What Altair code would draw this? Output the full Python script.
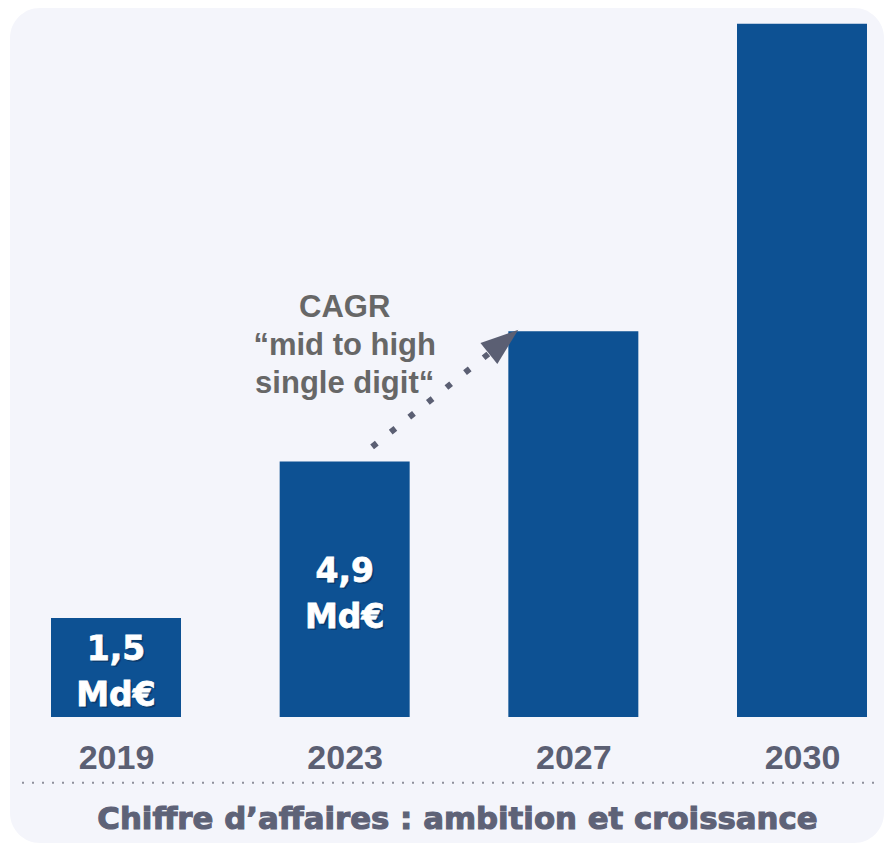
import altair as alt
import pandas as pd
import json

# ---------------- data ----------------
years = ["2019", "2023", "2027", "2030"]
bar_heights = [1.9, 4.9, 7.4, 13.3]          # bar heights as drawn (relative units)
value_labels = ["1,5\nMd€", "4,9\nMd€", "", ""]

cagr_text = ["CAGR\n“mid to high\nsingle digit“"]
cagr_pos = [1.0]          # above the 2023 bar
cagr_level = [7.67]

# dotted arrow, in "bar index" units (x) and bar-height units (y)
arrow_start_x = [1.12]
arrow_start_y = [5.18]
arrow_end_x = [1.63]
arrow_end_y = [6.97]
arrow_head_x = [1.695]
arrow_head_y = [7.20]

title_text = ["Chiffre d’affaires : ambition et croissance"]

# ---------------- styles ----------------
BAR = "#0d5193"
GREY_BLUE = "#5b5f73"
PANEL = "#f4f5fb"

bars_df = pd.DataFrame({"idx": list(range(len(years))), "year": years,
                        "h": bar_heights, "label": value_labels})
cagr_df = pd.DataFrame({"idx": cagr_pos, "h": cagr_level, "txt": cagr_text})
arrow_df = pd.DataFrame({"sx": arrow_start_x, "sy": arrow_start_y,
                         "ex": arrow_end_x, "ey": arrow_end_y})
head_df = pd.DataFrame({"hx": arrow_head_x, "hy": arrow_head_y})
title_df = pd.DataFrame({"t": title_text})

yscale = alt.Scale(domain=[0, 13.6], nice=False, zero=True, padding=0)
xlin = alt.Scale(domain=[0, 3], range=[108, 794], nice=False, zero=False, padding=0)

X = alt.X("idx:Q", scale=xlin,
          axis=alt.Axis(title=None, values=list(range(len(years))),
                        labelExpr=json.dumps(years) + "[datum.value]",
                        ticks=False, tickSize=0, domain=False, grid=False, zindex=1,
                        labelAngle=0, labelFont="Liberation Sans", labelFontWeight="bold",
                        labelFontSize=34, labelColor=GREY_BLUE, labelPadding=51,
                        labelBaseline="alphabetic", labelFlush=False, labelOverlap=False))
Y = alt.Y("h:Q", scale=yscale, axis=None)

panel = alt.Chart(alt.Data(values=[{}])).mark_rect(
    color=PANEL, cornerRadius=30
).encode(x=alt.value(2), x2=alt.value(876), y=alt.value(0), y2=alt.value(835))

bars = alt.Chart(bars_df).mark_bar(color=BAR, width=130).encode(x=X, y=Y)

lab_base = alt.Chart(bars_df).transform_filter("datum.label != ''").transform_calculate(
    mid="datum.h / 2"
)
label_shadow = lab_base.mark_text(
    font="DejaVu Sans", fontWeight="bold", fontSize=33, lineBreak="\n", lineHeight=46,
    color="#0a2443", opacity=0.45, dx=2, dy=-15, align="center", baseline="middle"
).encode(x=alt.X("idx:Q"), y=alt.Y("mid:Q", axis=None), text="label:N")
labels = lab_base.mark_text(
    font="DejaVu Sans", fontWeight="bold", fontSize=33, lineBreak="\n", lineHeight=46,
    color="white", stroke="white", strokeWidth=0.8, dy=-17, align="center", baseline="middle"
).encode(x=alt.X("idx:Q"), y=alt.Y("mid:Q", axis=None), text="label:N")

cagr = alt.Chart(cagr_df).mark_text(
    font="Liberation Sans", fontWeight="bold", fontSize=31, lineBreak="\n", lineHeight=38,
    color="#676767", align="center", baseline="alphabetic"
).encode(x=alt.X("idx:Q"), y=alt.Y("h:Q", axis=None), text="txt:N")

arrow = alt.Chart(arrow_df).mark_rule(
    color=GREY_BLUE, strokeWidth=6, strokeDash=[6, 17.8], strokeCap="butt"
).encode(x=alt.X("sx:Q"), x2="ex:Q", y=alt.Y("sy:Q", axis=None), y2="ey:Q")

head = alt.Chart(head_df).mark_point(
    shape="M0,-1L0.716,1L-0.716,1Z", size=1421, filled=True, angle=51.3,
    color=GREY_BLUE, opacity=1, strokeWidth=0
).encode(x=alt.X("hx:Q"), y=alt.Y("hy:Q", axis=None))

separator = alt.Chart(alt.Data(values=[{}])).mark_rule(
    color="#8e909c", strokeWidth=2, strokeDash=[2, 8]
).encode(x=alt.value(14), x2=alt.value(872), y=alt.value(774.7))

title = alt.Chart(title_df).mark_text(
    font="DejaVu Sans", fontWeight="bold", fontSize=30.8, color="#5e6277",
    stroke="#5e6277", strokeWidth=1.1, align="center", baseline="alphabetic"
).encode(x=alt.value(449.5), y=alt.value(821), text="t:N")

chart = alt.layer(
    panel, bars, label_shadow, labels, cagr, arrow, head, separator, title
).properties(
    width=876, height=709, autosize="none",
    padding={"top": 0, "left": 0, "right": 0, "bottom": 126},
).configure(background="white", view=alt.ViewConfig(stroke=None))

chart.save("out.html", embed_options={"renderer": "svg", "actions": False})
